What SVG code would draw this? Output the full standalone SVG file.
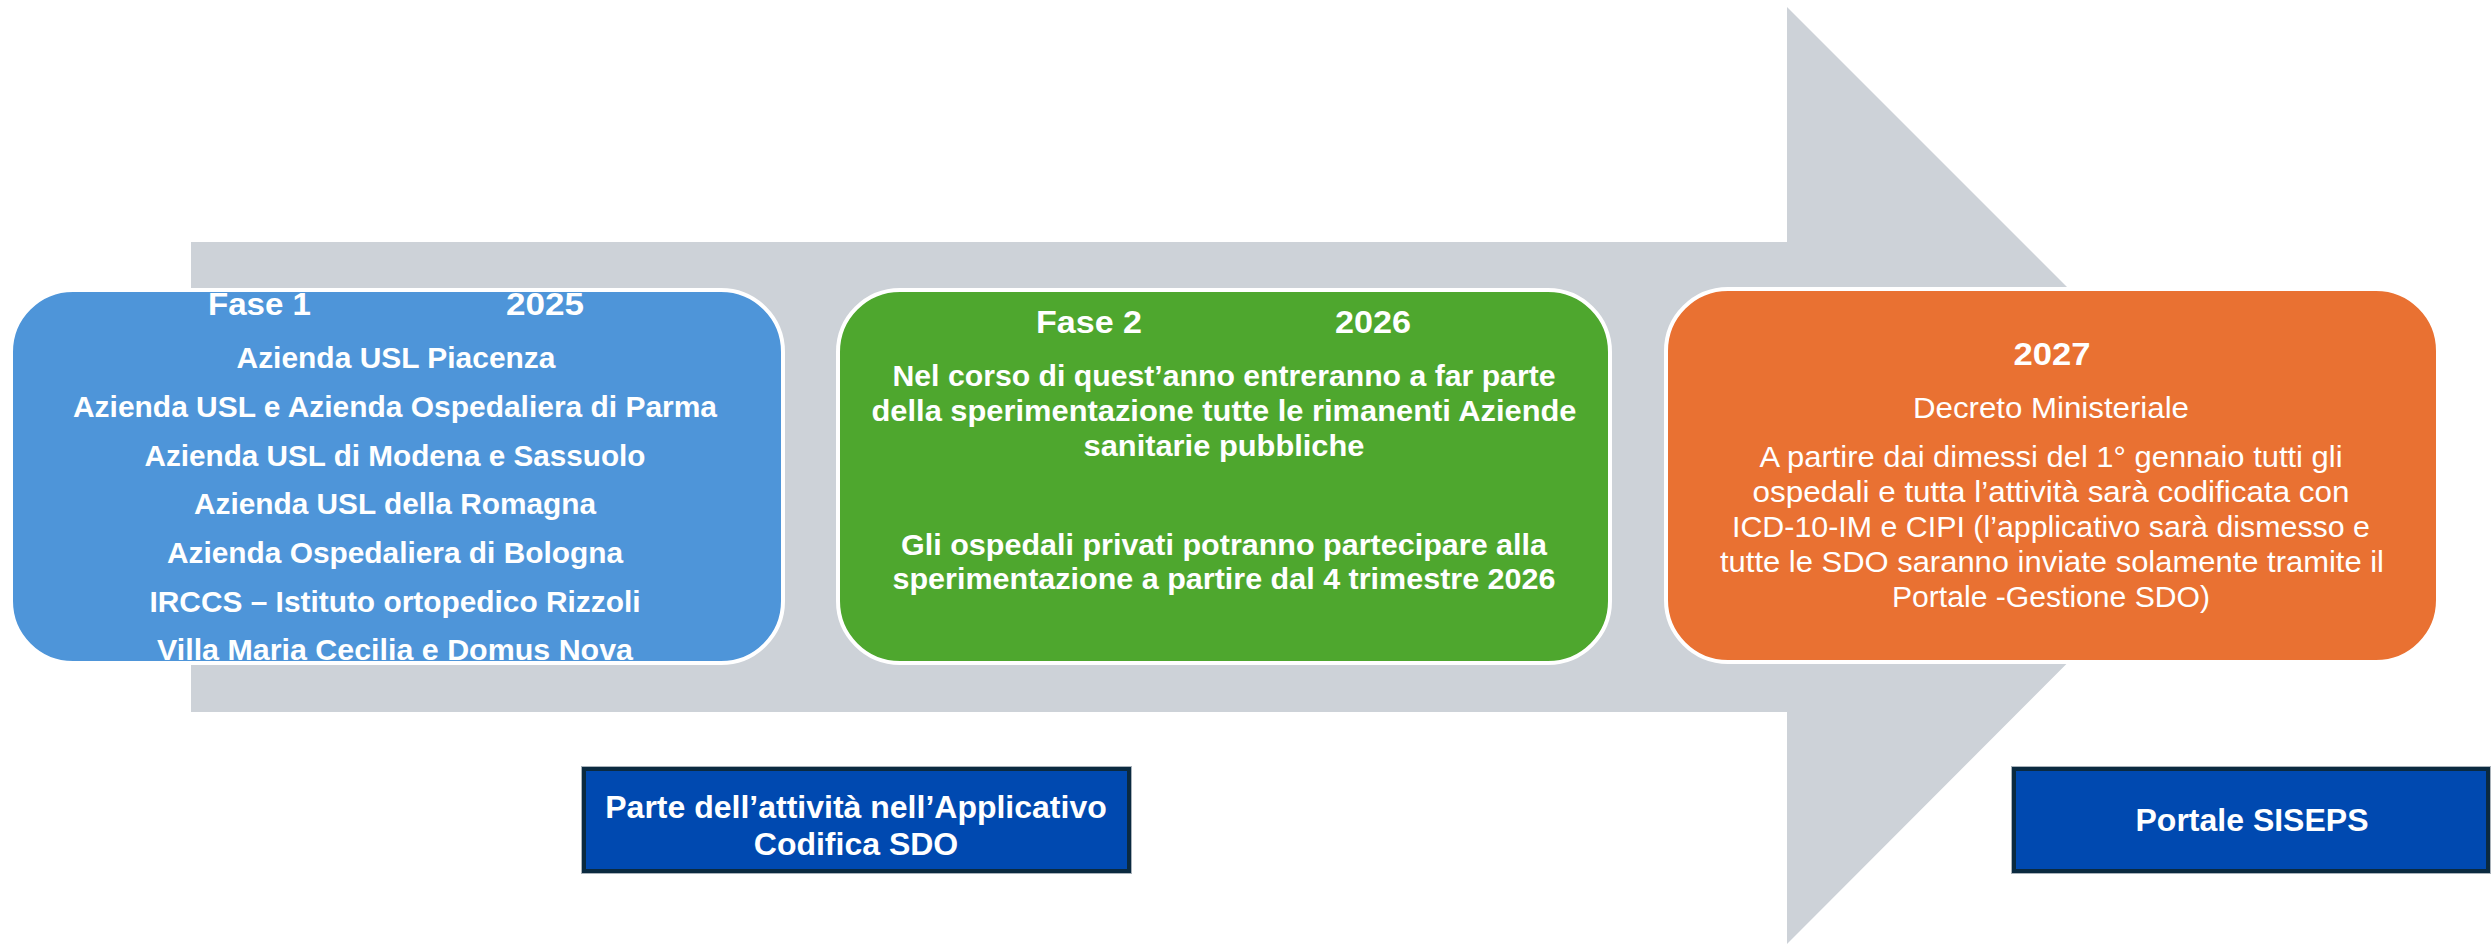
<svg xmlns="http://www.w3.org/2000/svg" width="2491" height="944" viewBox="0 0 2491 944">
  <style>
    .phase { stroke: #FFFFFF; stroke-width: 4; }
    .t { font-family: "Liberation Sans", Arial, sans-serif; fill: #FFFFFF; text-anchor: middle; }
    .b { font-weight: bold; }
    .h { font-size: 32px; font-weight: bold; }
    .body { font-size: 30px; }
    .reg { font-size: 29px; font-weight: normal; }
    .tag { fill: #0049B0; stroke: #0B2A40; stroke-width: 4; }
    .tagedge { fill: none; stroke: #A9B2BA; stroke-width: 1; }
    .tagtext { font-family: "Liberation Sans", Arial, sans-serif; font-size: 32px; font-weight: bold; fill: #FFFFFF; text-anchor: middle; }
  </style>
  <rect x="0" y="0" width="2491" height="944" fill="#FFFFFF"/>

  <g id="timeline-arrow">
    <polygon points="191,242 1787,242 1787,7 2255,475 1787,944 1787,712 191,712" fill="#CDD2D8"/>
  </g>

  <g id="connectors"></g>

  <g id="phase1">
    <rect class="phase" x="11" y="290" width="772" height="373" rx="62" ry="62" fill="#4E95D9"/>
    <text class="t h" x="208" y="315" style="text-anchor:start" textLength="103" lengthAdjust="spacingAndGlyphs">Fase 1</text>
    <text class="t h" x="506" y="315" style="text-anchor:start" textLength="78" lengthAdjust="spacingAndGlyphs">2025</text>
    <text class="t b body" x="396" y="368" textLength="319" lengthAdjust="spacingAndGlyphs">Azienda USL Piacenza</text>
    <text class="t b body" x="395" y="417" textLength="644" lengthAdjust="spacingAndGlyphs">Azienda USL e Azienda Ospedaliera di Parma</text>
    <text class="t b body" x="395" y="466" textLength="501" lengthAdjust="spacingAndGlyphs">Azienda USL di Modena e Sassuolo</text>
    <text class="t b body" x="395" y="514" textLength="402" lengthAdjust="spacingAndGlyphs">Azienda USL della Romagna</text>
    <text class="t b body" x="395" y="563" textLength="456" lengthAdjust="spacingAndGlyphs">Azienda Ospedaliera di Bologna</text>
    <text class="t b body" x="395" y="612" textLength="491" lengthAdjust="spacingAndGlyphs">IRCCS – Istituto ortopedico Rizzoli</text>
    <text class="t b body" x="395" y="660" textLength="476" lengthAdjust="spacingAndGlyphs">Villa Maria Cecilia e Domus Nova</text>
  </g>

  <g id="phase2">
    <rect class="phase" x="838" y="290" width="772" height="373" rx="62" ry="62" fill="#4EA72E"/>
    <text class="t h" x="1036" y="333" style="text-anchor:start" textLength="106" lengthAdjust="spacingAndGlyphs">Fase 2</text>
    <text class="t h" x="1335" y="333" style="text-anchor:start" textLength="76" lengthAdjust="spacingAndGlyphs">2026</text>
    <text class="t b body" x="1224" y="386" textLength="663" lengthAdjust="spacingAndGlyphs">Nel corso di quest’anno entreranno a far parte</text>
    <text class="t b body" x="1224" y="421" textLength="705" lengthAdjust="spacingAndGlyphs">della sperimentazione tutte le rimanenti Aziende</text>
    <text class="t b body" x="1224" y="456" textLength="281" lengthAdjust="spacingAndGlyphs">sanitarie pubbliche</text>
    <text class="t b body" x="1224" y="555" textLength="646" lengthAdjust="spacingAndGlyphs">Gli ospedali privati potranno partecipare alla</text>
    <text class="t b body" x="1224" y="589" textLength="663" lengthAdjust="spacingAndGlyphs">sperimentazione a partire dal 4 trimestre 2026</text>
  </g>

  <g id="phase3">
    <rect class="phase" x="1666" y="289" width="772" height="373" rx="62" ry="62" fill="#E97132"/>
    <text class="t h" x="2052" y="365" textLength="77" lengthAdjust="spacingAndGlyphs">2027</text>
    <text class="t reg" x="2051" y="418" textLength="276" lengthAdjust="spacingAndGlyphs">Decreto Ministeriale</text>
    <text class="t reg" x="2051" y="467" textLength="583" lengthAdjust="spacingAndGlyphs">A partire dai dimessi del 1° gennaio tutti gli</text>
    <text class="t reg" x="2051" y="502" textLength="597" lengthAdjust="spacingAndGlyphs">ospedali e tutta l’attività sarà codificata con</text>
    <text class="t reg" x="2051" y="537" textLength="638" lengthAdjust="spacingAndGlyphs">ICD-10-IM e CIPI (l’applicativo sarà dismesso e</text>
    <text class="t reg" x="2052" y="572" textLength="664" lengthAdjust="spacingAndGlyphs">tutte le SDO saranno inviate solamente tramite il</text>
    <text class="t reg" x="2051" y="607" textLength="318" lengthAdjust="spacingAndGlyphs">Portale -Gestione SDO)</text>
  </g>

  <g id="tag-applicativo">
    <rect class="tagedge" x="581.5" y="766.5" width="550" height="107"/>
    <rect class="tag" x="584" y="769" width="545" height="102"/>
    <text class="tagtext" x="856" y="818">Parte dell’attività nell’Applicativo</text>
    <text class="tagtext" x="856" y="855">Codifica SDO</text>
  </g>

  <g id="tag-siseps">
    <rect class="tagedge" x="2011.5" y="766.5" width="479" height="107"/>
    <rect class="tag" x="2014" y="769" width="474" height="102"/>
    <text class="tagtext" x="2252" y="831">Portale SISEPS</text>
  </g>
</svg>
